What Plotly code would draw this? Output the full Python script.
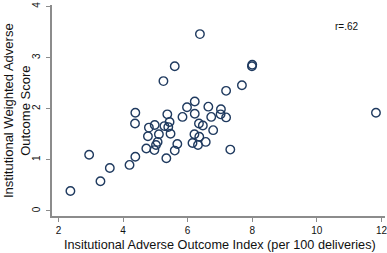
import plotly.graph_objects as go

# Data
adverse_index = [2.37, 2.95, 3.30, 3.59, 4.20, 4.38, 4.38, 4.37, 4.72, 4.77,
                 4.80, 4.98, 4.97, 5.02, 5.07, 5.11, 5.34, 5.28, 5.37, 5.40,
                 5.44, 5.47, 5.60, 5.68, 5.84, 5.98, 6.22, 6.22, 6.15, 6.21,
                 6.35, 6.47, 6.32, 6.36, 6.56, 6.64, 6.73, 6.79, 6.38, 5.60,
                 5.25, 7.99, 8.00, 7.68, 7.19, 7.03, 7.02, 7.19, 7.32, 11.83]
weighted_score = [0.39, 1.10, 0.58, 0.84, 0.90, 1.06, 1.92, 1.71, 1.22, 1.46,
                  1.63, 1.68, 1.19, 1.29, 1.35, 1.50, 1.03, 1.66, 1.89, 1.64,
                  1.74, 1.51, 1.18, 1.31, 1.84, 2.03, 2.14, 1.90, 1.33, 1.50,
                  1.71, 1.67, 1.29, 1.45, 1.35, 2.04, 1.84, 1.58, 3.46, 2.83,
                  2.54, 2.83, 2.86, 2.46, 2.35, 1.99, 1.89, 1.83, 1.20, 1.92]
x_ticks = [2, 4, 6, 8, 10, 12]
y_ticks = [0, 1, 2, 3, 4]
r_label = "r=.62"

font_family = "Liberation Sans, Arial, sans-serif"
marker_color = "#1f3a5f"
axis_color = "#8c8c8c"

fig = go.Figure()
fig.add_trace(go.Scatter(
    x=adverse_index, y=weighted_score, mode="markers",
    marker=dict(symbol="circle-open", size=8.5, color=marker_color,
                line=dict(width=1.4, color=marker_color)),
    showlegend=False, hoverinfo="skip"))

fig.update_layout(
    width=387, height=253,
    margin=dict(l=52, r=2, t=5, b=37, autoexpand=False),
    paper_bgcolor="white", plot_bgcolor="white",
    font=dict(family=font_family, color="#111111"),
    xaxis=dict(range=[1.80, 12.11], tickvals=x_ticks, showgrid=False,
               zeroline=False, showline=True, linecolor=axis_color, linewidth=1.5,
               ticks="outside", ticklen=4, tickcolor=axis_color, tickwidth=1,
               automargin=False, ticklabeloverflow="allow",
               tickfont=dict(size=10, family=font_family, color="#111111")),
    yaxis=dict(range=[-0.10, 4.03], tickvals=y_ticks, showgrid=False,
               zeroline=False, showline=True, linecolor=axis_color, linewidth=1.5,
               ticks="outside", ticklen=4, tickcolor=axis_color, tickwidth=1,
               tickangle=-90, ticklabelstandoff=2, automargin=False,
               ticklabeloverflow="allow",
               tickfont=dict(size=10, family=font_family, color="#111111")),
    annotations=[
        dict(text="Insitutional Adverse Outcome Index (per 100 deliveries)",
             xref="paper", yref="paper", x=0.5, y=0, yshift=-20, xshift=1,
             xanchor="center", yanchor="top", showarrow=False,
             font=dict(size=12.7, family=font_family, color="#111111")),
        dict(text="Institutional Weighted Adverse<br>Outcome Score",
             xref="paper", yref="paper", x=0, y=0.5, xshift=-35.5,
             xanchor="center", yanchor="middle", textangle=-90, showarrow=False,
             font=dict(size=13, family=font_family, color="#111111")),
        dict(text=r_label, x=10.93, y=3.61, xref="x", yref="y",
             showarrow=False, xanchor="center", yanchor="middle",
             font=dict(size=10, family=font_family, color="#111111")),
    ],
)

fig.write_html("out.html", config={"displayModeBar": False},
               post_script="document.body.style.margin='0';document.body.style.overflow='hidden';")
